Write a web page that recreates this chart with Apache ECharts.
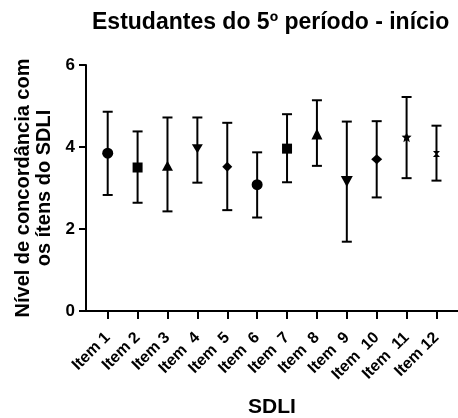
<!DOCTYPE html>
<html>
<head>
<meta charset="utf-8">
<script src="https://cdn.jsdelivr.net/npm/echarts@6/dist/echarts.min.js"></script>
<style>html,body{margin:0;padding:0;background:#fff}#c{width:458px;height:418px}</style>
</head>
<body>
<div id="c"></div>
<script>
const categories = ['Item 1','Item 2','Item 3','Item  4','Item  5','Item  6','Item  7','Item  8','Item  9','Item  10','Item  11','Item 12'];
const means = [3.85, 3.50, 3.54, 3.96, 3.52, 3.08, 3.96, 4.32, 3.16, 3.70, 4.24, 3.83];
const lows  = [2.83, 2.64, 2.43, 3.13, 2.46, 2.28, 3.14, 3.54, 1.69, 2.77, 3.24, 3.18];
const highs = [4.86, 4.38, 4.72, 4.72, 4.59, 3.87, 4.80, 5.14, 4.62, 4.63, 5.22, 4.52];
const yTicks = [0, 2, 4, 6];

const INV_TRI = 'path://M0,0 L12,0 L6,10 Z';
const STAR = 'path://M5,0 L6.4,3.2 L10,3.4 L7.3,5.7 L8.2,9.5 L5,7.4 L1.8,9.5 L2.7,5.7 L0,3.4 L3.6,3.2 Z';
const ASTER = 'path://M0,0 L10,0 L6,4 L10,8 L0,8 L4,4 Z';
const markers = [
  ['circle', 11], ['rect', 10], ['triangle', [11, 10]], [INV_TRI, [11, 9]],
  ['diamond', [10, 10]], ['circle', 11], ['rect', 10], ['triangle', [11, 11]],
  [INV_TRI, [12, 11]], ['diamond', [11, 10]], [STAR, 10], [ASTER, [7, 6]]
];
const positions = categories.map((c, i) => i + 1);

const chart = echarts.init(document.getElementById('c'), null, {renderer: 'canvas'});
const font = 'Liberation Sans, Arial, sans-serif';
chart.setOption({
  animation: false,
  title: {
    text: 'Estudantes do 5º período - início',
    left: 87, top: 6,
    textStyle: {fontFamily: font, fontWeight: 'bold', fontSize: 23, color: '#000'}
  },
  grid: {left: 86, right: 0, top: 65, bottom: 107, containLabel: false, outerBoundsMode: 'none'},
  xAxis: {
    type: 'value', min: 0.274, max: 12.72,
    splitLine: {show: false},
    axisLine: {show: true, onZero: false, lineStyle: {color: '#000', width: 2}},
    axisTick: {show: true, customValues: positions, length: 8, lineStyle: {color: '#000', width: 2}},
    axisLabel: {
      customValues: positions, rotate: 45, margin: 24,
      formatter: v => categories[Math.round(v) - 1] || '',
      fontFamily: font, fontWeight: 'bold', fontSize: 16, color: '#000'
    },
    name: 'SDLI', nameLocation: 'middle', nameGap: 86,
    nameTextStyle: {fontFamily: font, fontWeight: 'bold', fontSize: 21, color: '#000'}
  },
  yAxis: {
    type: 'value', min: 0, max: 6, interval: 2,
    splitLine: {show: false},
    axisLine: {show: true, lineStyle: {color: '#000', width: 2}},
    axisTick: {show: true, length: 7, lineStyle: {color: '#000', width: 2}},
    axisLabel: {margin: 11, fontFamily: font, fontWeight: 'bold', fontSize: 17, color: '#000',
      formatter: v => yTicks.includes(v) ? String(v) : ''},
    name: 'Nível de concordância com\nos ítens do SDLI', nameLocation: 'middle', nameRotate: 90, nameGap: 30,
    nameTextStyle: {fontFamily: font, fontWeight: 'bold', fontSize: 20, lineHeight: 21, color: '#000'}
  },
  series: [
    {
      type: 'custom',
      data: positions.map((p, i) => [p, lows[i], highs[i]]),
      renderItem: (params, api) => {
        const x = api.value(0);
        const lo = api.coord([x, api.value(1)]);
        const hi = api.coord([x, api.value(2)]);
        const hw = 5;
        const st = {stroke: '#000', lineWidth: 2};
        return {type: 'group', children: [
          {type: 'line', shape: {x1: lo[0], y1: lo[1], x2: hi[0], y2: hi[1]}, style: st},
          {type: 'line', shape: {x1: lo[0] - hw, y1: lo[1], x2: lo[0] + hw, y2: lo[1]}, style: st},
          {type: 'line', shape: {x1: hi[0] - hw, y1: hi[1], x2: hi[0] + hw, y2: hi[1]}, style: st}
        ]};
      },
      z: 2
    },
    {
      type: 'scatter',
      data: positions.map((p, i) => ({value: [p, means[i]], symbol: markers[i][0], symbolSize: markers[i][1]})),
      itemStyle: {color: '#000', opacity: 1},
      z: 3
    }
  ]
});
</script>
</body>
</html>
